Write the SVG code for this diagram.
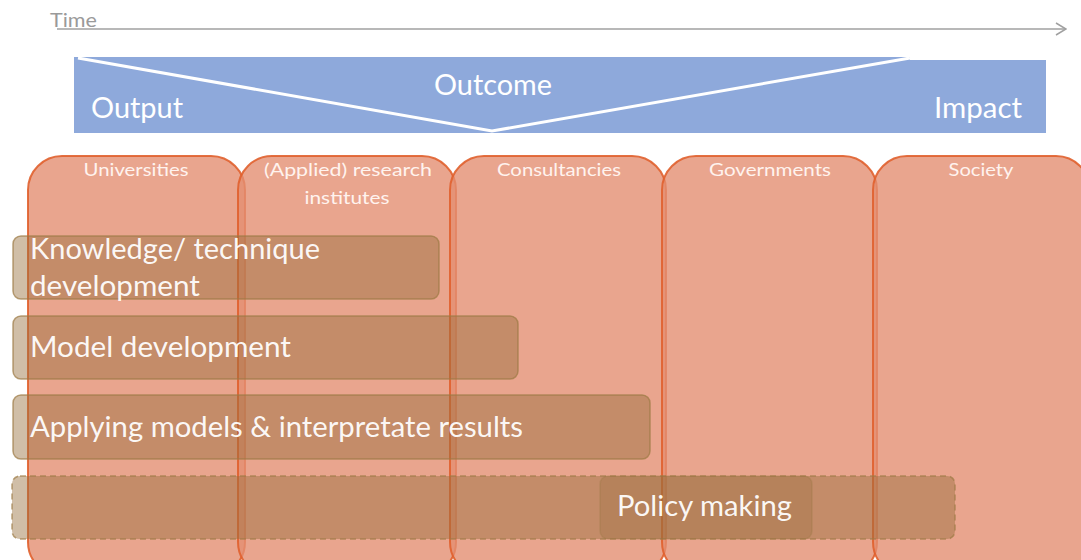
<svg xmlns="http://www.w3.org/2000/svg" width="1081" height="560" viewBox="0 0 1081 560">
<defs>
<marker id="chev" viewBox="0 0 12 14" refX="11" refY="7" markerWidth="12" markerHeight="14" markerUnits="userSpaceOnUse" orient="auto">
<path d="M1,1 L11,7 L1,13" fill="none" stroke="#A0A0A0" stroke-width="1.5"/>
</marker>
<style>
.col{fill:#E48F72;fill-opacity:0.8;stroke:#E0602E;stroke-width:2;stroke-opacity:0.9}
.colt{font-family:Lato,"Open Sans","Liberation Sans",sans-serif;font-size:17px;fill:#FFF3EE;text-anchor:middle}
.bar{fill:#966E3C;fill-opacity:0.45;stroke:#9C7A45;stroke-opacity:0.7;stroke-width:1.5}
.dash{stroke-dasharray:6 4}
.bt{font-family:Lato,"Open Sans","Liberation Sans",sans-serif;font-size:28px;fill:#FFFFFF;fill-opacity:0.95}
.ht{font-family:Lato,"Open Sans","Liberation Sans",sans-serif;font-size:28px;fill:#FFFFFF}
</style>
</defs>
<rect width="1081" height="560" fill="#FFFFFF"/>
<g id="time">
<text x="50" y="27" font-family="Lato, Open Sans, Liberation Sans, sans-serif" font-size="19" fill="#9A9A9A" textLength="47" lengthAdjust="spacingAndGlyphs">Time</text>
</g>
<g id="connectors">
<line x1="57" y1="29" x2="1066" y2="29" stroke="#A0A0A0" stroke-width="1.5" marker-end="url(#chev)"/>
</g>
<g id="band">
<polygon points="74,57 910,57 910,60 1046,60 1046,133 74,133" fill="#8EA9DB"/>
<polyline points="78,58 492,131 910,58" fill="none" stroke="#FFFFFF" stroke-width="3"/>
<text class="ht" x="91" y="118" textLength="92" lengthAdjust="spacingAndGlyphs">Output</text>
<text class="ht" x="434" y="95" textLength="118" lengthAdjust="spacingAndGlyphs">Outcome</text>
<text class="ht" x="934" y="118" textLength="88" lengthAdjust="spacingAndGlyphs">Impact</text>
</g>
<g id="col-universities">
<rect class="col" x="28" y="156" width="217" height="420" rx="34"/>
<text class="colt" x="136" y="176" textLength="105" lengthAdjust="spacingAndGlyphs">Universities</text>
</g>
<g id="col-research">
<rect class="col" x="238" y="156" width="218" height="420" rx="34"/>
<text class="colt" x="348" y="176" textLength="168" lengthAdjust="spacingAndGlyphs">(Applied)  research</text>
<text class="colt" x="347" y="204" textLength="85" lengthAdjust="spacingAndGlyphs">institutes</text>
</g>
<g id="col-consultancies">
<rect class="col" x="450" y="156" width="216" height="420" rx="34"/>
<text class="colt" x="559" y="176" textLength="124" lengthAdjust="spacingAndGlyphs">Consultancies</text>
</g>
<g id="col-governments">
<rect class="col" x="662" y="156" width="215" height="420" rx="34"/>
<text class="colt" x="770" y="176" textLength="122" lengthAdjust="spacingAndGlyphs">Governments</text>
</g>
<g id="col-society">
<rect class="col" x="873" y="156" width="217" height="420" rx="34"/>
<text class="colt" x="981" y="176" textLength="65" lengthAdjust="spacingAndGlyphs">Society</text>
</g>
<g id="bar-knowledge">
<rect class="bar" x="13" y="236" width="426" height="63" rx="8"/>
<text class="bt" x="30" y="259" textLength="290" lengthAdjust="spacingAndGlyphs">Knowledge/ technique</text>
<text class="bt" x="30" y="296" textLength="170" lengthAdjust="spacingAndGlyphs">development</text>
</g>
<g id="bar-model">
<rect class="bar" x="13" y="316" width="505" height="63" rx="8"/>
<text class="bt" x="30" y="357" textLength="261" lengthAdjust="spacingAndGlyphs">Model development</text>
</g>
<g id="bar-applying">
<rect class="bar" x="13" y="395" width="637" height="64" rx="8"/>
<text class="bt" x="30" y="437" textLength="493" lengthAdjust="spacingAndGlyphs">Applying models &amp; interpretate results</text>
</g>
<g id="bar-dashed">
<rect class="bar dash" x="12" y="476" width="943" height="63" rx="8"/>
</g>
<g id="bar-policy">
<rect class="bar" x="600" y="476" width="212" height="63" rx="8" style="fill-opacity:0.3;stroke-opacity:0.3"/>
<text class="bt" x="617" y="516" textLength="175" lengthAdjust="spacingAndGlyphs">Policy making</text>
</g>
</svg>
